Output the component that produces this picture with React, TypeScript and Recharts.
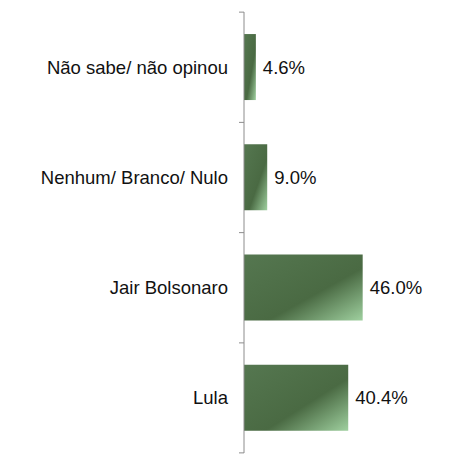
import { Bar, BarChart, XAxis, YAxis, LabelList } from "recharts";

const categories = ["Não sabe/ não opinou", "Nenhum/ Branco/ Nulo", "Jair Bolsonaro", "Lula"];
const shares = [4.6, 9.0, 46.0, 40.4];

const data = categories.map((name, i) => ({ name, value: shares[i] }));

const BAND = 110;

// label at band centre, tick marks at the band edges
const CategoryTick = (props: any) => {
  const { x, y, payload, index } = props;
  const axisX = x + 16;
  return (
    <g>
      <text x={x} y={y} dy="0.355em" textAnchor="end" fill="#111" fontSize={18.5}>
        {payload.value}
      </text>
      <line x1={axisX - 5} x2={axisX} y1={y - BAND / 2} y2={y - BAND / 2} stroke="#8c8c8c" />
      {index === categories.length - 1 && (
        <line x1={axisX - 5} x2={axisX} y1={y + BAND / 2} y2={y + BAND / 2} stroke="#8c8c8c" />
      )}
    </g>
  );
};

export default function App() {
  return (
    <div style={{ position: "absolute", left: 0, top: 0, background: "#fff" }}>
      <BarChart
        width={462}
        height={459}
        data={data}
        layout="vertical"
        margin={{ top: 12, right: 89, bottom: 6, left: 0 }}
        barCategoryGap="20%"
        style={{ fontFamily: "'Liberation Sans', Arial, sans-serif" }}
      >
        <defs>
          <linearGradient id="barFill" x1="0" y1="0" x2="1" y2="1">
            <stop offset="0" stopColor="#557750" />
            <stop offset="0.6" stopColor="#4a6a43" />
            <stop offset="1" stopColor="#9fd09f" />
          </linearGradient>
        </defs>
        <XAxis type="number" domain={[0, 50]} hide />
        <YAxis
          type="category"
          dataKey="name"
          width={244}
          axisLine={{ stroke: "#8c8c8c" }}
          tickLine={false}
          tickSize={0}
          tickMargin={16}
          tick={<CategoryTick />}
          interval={0}
        />
        <Bar dataKey="value" fill="url(#barFill)" isAnimationActive={false}>
          <LabelList
            dataKey="value"
            position="right"
            offset={7}
            fill="#111"
            fontSize={18.5}
            formatter={(v: any) => `${Number(v).toFixed(1)}%`}
          />
        </Bar>
      </BarChart>
    </div>
  );
}
